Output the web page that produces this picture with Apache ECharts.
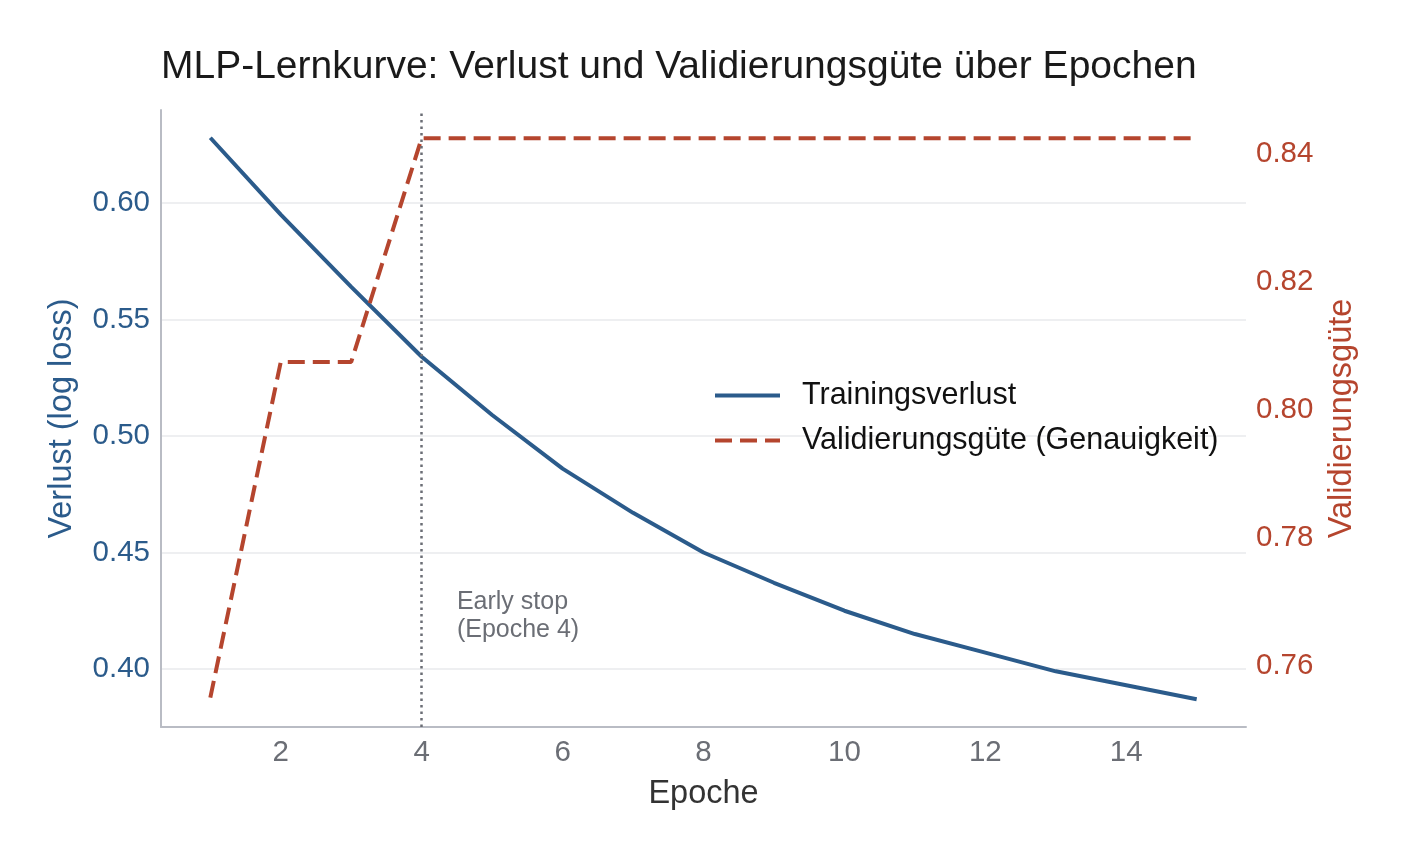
<!DOCTYPE html>
<html>
<head>
<meta charset="utf-8">
<script src="https://cdn.jsdelivr.net/npm/echarts@6/dist/echarts.min.js"></script>
<style>
  html, body { margin: 0; padding: 0; background: #fff; }
  #chart { width: 1407px; height: 859px; }
</style>
</head>
<body>
<div id="chart"></div>
<script>
// Daten
var epochs = [1, 2, 3, 4, 5, 6, 7, 8, 9, 10, 11, 12, 13, 14, 15];
var trainLoss = [0.628, 0.595, 0.564, 0.534, 0.509, 0.486, 0.467, 0.450, 0.437, 0.425, 0.415, 0.407, 0.399, 0.393, 0.387];
var valAcc = [0.755, 0.8075, 0.8075, 0.8425, 0.8425, 0.8425, 0.8425, 0.8425, 0.8425, 0.8425, 0.8425, 0.8425, 0.8425, 0.8425, 0.8425];
var stopEpoch = 4;

var blue = '#2b5b8b';
var red = '#b5452e';
var grey = '#6b6e75';
var font = 'Liberation Sans';

var chart = echarts.init(document.getElementById('chart'));

var option = {
    backgroundColor: '#fff',
    animation: false,
    textStyle: { fontFamily: font },
    title: {
        text: 'MLP-Lernkurve: Verlust und Validierungsgüte über Epochen',
        left: 156,
        top: 43,
        textStyle: { fontFamily: font, fontSize: 39, fontWeight: 'normal', color: '#1a1a1a' }
    },
    grid: { left: 161, right: 161, top: 110, bottom: 132 },
    legend: {
        orient: 'vertical',
        left: 708,
        top: 375,
        itemWidth: 65,
        itemHeight: 14,
        itemGap: 14,
        itemStyle: { opacity: 0, color: 'rgba(0,0,0,0)', borderWidth: 0 },
        lineStyle: { width: 4 },
        textStyle: { fontFamily: font, fontSize: 30.5, color: '#111', padding: [0, 0, 0, 17] },
        data: ['Trainingsverlust', 'Validierungsgüte (Genauigkeit)']
    },
    xAxis: {
        type: 'value',
        min: 0.3,
        max: 15.7,
        minInterval: 2,
        maxInterval: 2,
        name: 'Epoche',
        nameLocation: 'middle',
        nameGap: 51,
        nameTextStyle: { fontFamily: font, fontSize: 32.5, color: '#333' },
        axisLine: { show: true, lineStyle: { color: '#b9bcc4', width: 2 } },
        axisTick: { show: false },
        splitLine: { show: false },
        axisLabel: {
            showMinLabel: false, showMaxLabel: false,
            margin: 11, fontSize: 29.5, color: grey,
            formatter: function (v) { return String(v); }
        }
    },
    yAxis: [
        {
            type: 'value',
            min: 0.3751,
            max: 0.6399,
            minInterval: 0.05,
            maxInterval: 0.05,
            name: 'Verlust (log loss)',
            nameLocation: 'middle',
            nameGap: 82,
            nameTextStyle: { fontFamily: font, fontSize: 32.5, color: blue },
            axisLine: { show: true, lineStyle: { color: '#b9bcc4', width: 2 } },
            axisTick: { show: false },
            splitLine: { show: true, showMinLine: false, showMaxLine: false, lineStyle: { color: '#e9eaec', width: 1.5 } },
            axisLabel: {
                showMinLabel: false, showMaxLabel: false,
                margin: 11, fontSize: 29.5, color: blue,
                padding: [4, 0, 0, 0],
                formatter: function (v) { return v.toFixed(2); }
            }
        },
        {
            type: 'value',
            position: 'right',
            min: 0.7504,
            max: 0.8469,
            minInterval: 0.02,
            maxInterval: 0.02,
            name: 'Validierungsgüte',
            nameLocation: 'middle',
            nameGap: 80,
            nameTextStyle: { fontFamily: font, fontSize: 32.5, color: red },
            axisLine: { show: false },
            axisTick: { show: false },
            splitLine: { show: false },
            axisLabel: {
                showMinLabel: false, showMaxLabel: false,
                margin: 10, fontSize: 29.5, color: red,
                padding: [4, 0, 0, 0],
                formatter: function (v) { return v.toFixed(2); }
            }
        }
    ],
    series: [
        {
            name: 'Trainingsverlust',
            type: 'line',
            yAxisIndex: 0,
            symbol: 'none',
            data: epochs.map(function (e, i) { return [e, trainLoss[i]]; }),
            lineStyle: { color: blue, width: 4 },
            itemStyle: { color: blue },
            markLine: {
                silent: true,
                symbol: 'none',
                label: { show: false },
                lineStyle: { color: grey, type: [2.5, 4], width: 2.5 },
                data: [{ xAxis: stopEpoch }]
            },
            markPoint: {
                silent: true,
                symbol: 'circle',
                symbolSize: 0,
                data: [{
                    coord: [stopEpoch + 0.5, 0.4228],
                    label: {
                        show: true,
                        position: 'right',
                        distance: 0,
                        formatter: 'Early stop\n(Epoche ' + stopEpoch + ')',
                        fontFamily: font,
                        fontSize: 25,
                        lineHeight: 28,
                        color: grey,
                        align: 'left'
                    }
                }]
            }
        },
        {
            name: 'Validierungsgüte (Genauigkeit)',
            type: 'line',
            yAxisIndex: 1,
            symbol: 'none',
            data: epochs.map(function (e, i) { return [e, valAcc[i]]; }),
            lineStyle: { color: red, width: 4, type: [17, 8] },
            itemStyle: { color: red }
        }
    ]
};

chart.setOption(option);
</script>
</body>
</html>
